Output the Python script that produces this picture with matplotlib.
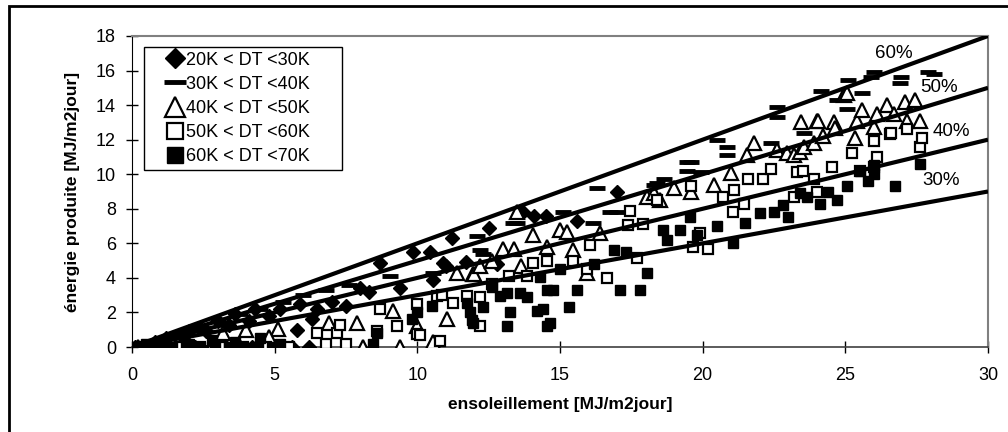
import matplotlib
matplotlib.use('Agg')
import matplotlib.pyplot as plt
import matplotlib.patches as mpatches
import numpy as np

plt.rcParams['font.family'] = ['Liberation Sans', 'DejaVu Sans']

# 20K < DT < 30K (diamonds)
d1_x = [0.1, 0.5, 1.0, 1.5, 2.2, 2.8, 3.3, 3.8, 4.2, 4.6, 5.0, 5.6, 6.2,
        1.8, 2.6, 3.4, 4.1, 4.8, 5.2, 5.9, 6.5, 7.0, 7.5, 8.0, 8.3, 8.7, 9.4,
        9.85, 10.45, 10.55, 10.9, 11.0, 11.2, 11.7, 12.5, 12.8, 13.7, 14.1,
        14.5, 15.6, 17.0, 5.8, 6.3,
        0.8, 1.2, 2.0, 2.4, 3.0, 3.6, 4.3]
d1_y = [0, 0, 0, 0, 0, 0, 0, 0, 0, 0, 0, 0, 0,
        0.6, 0.9, 1.3, 1.5, 1.8, 2.2, 2.5, 2.2, 2.6, 2.4, 3.4, 3.2, 4.85, 3.4,
        5.5, 5.5, 3.9, 4.85, 4.7, 6.3, 4.9, 6.9, 4.8, 7.8, 7.6,
        7.6, 7.3, 9.0, 1.0, 1.6,
        0.3, 0.5, 0.9, 1.1, 1.5, 1.9, 2.2]

# 30K < DT < 40K (dashes)
d2_x = [0.3, 0.8, 1.4, 2.0, 2.7, 3.3, 4.0, 4.6,
        2.2, 3.0, 3.8, 4.5, 5.3, 6.0, 6.8, 7.6,
        9.05, 10.55, 12.1, 12.2, 12.3, 13.35, 13.5, 15.1, 16.15, 16.3,
        16.75, 17.0, 18.3, 18.4, 18.65, 19.45, 19.45, 19.6, 19.95, 20.5,
        20.85, 20.85, 22.4, 22.6, 22.6, 23.55, 24.15, 24.7, 25.05, 25.1,
        25.6, 25.9, 26.0, 26.9, 26.95, 27.9, 28.1]
d2_y = [0, 0, 0, 0, 0, 0, 0, 0,
        1.1, 1.5, 1.9, 2.2, 2.6, 3.0, 3.3, 3.6,
        4.1, 4.3, 6.4, 5.6, 5.4, 7.2, 7.2, 7.8, 7.2, 9.2,
        7.8, 7.8, 9.4, 9.5, 9.7, 10.7, 10.2, 10.7, 10.1, 12.0,
        11.6, 11.1, 11.8, 13.9, 13.3, 12.4, 14.8, 14.3, 13.8, 15.45,
        14.7, 15.6, 15.9, 15.3, 15.6, 15.9, 15.8]

# 40K < DT < 50K (open triangles)
d3_x = [0.2, 0.7, 1.3, 2.0, 2.8, 3.6, 4.4, 5.0,
        5.1, 6.9, 7.9, 8.1, 9.15, 9.4, 10.55, 11.05, 10.0, 11.4, 11.95, 12.0,
        12.2, 13.0, 12.6, 13.4, 13.5, 13.65, 14.05, 14.55, 15.0, 15.25,
        15.45, 15.95, 16.4, 18.05, 18.3, 18.5, 19.0, 19.6, 20.4, 21.0,
        21.55, 21.8, 22.6, 22.95, 23.2, 23.4, 23.45, 23.55, 23.9, 24.0,
        24.05, 24.2, 24.6, 24.65, 24.95, 25.05, 25.35, 25.4, 25.6, 26.0,
        26.1, 26.45, 26.7, 27.1, 27.15, 27.45, 27.6,
        3.2, 4.0, 4.8]
d3_y = [0, 0, 0, 0, 0, 0, 0, 0,
        1.05, 1.4, 1.4, 0, 2.1, 0, 0.3, 1.6, 1.2, 4.3, 4.2, 4.2,
        4.7, 5.7, 5.0, 5.7, 7.8, 4.7, 6.5, 5.8, 6.8, 6.65,
        5.6, 4.3, 6.6, 8.7, 8.9, 8.5, 9.2, 9.0, 9.4, 10.05,
        11.1, 11.8, 11.4, 11.2, 11.1, 11.3, 13.0, 11.6, 11.8, 13.1,
        13.1, 12.2, 13.0, 12.7, 14.6, 14.7, 12.1, 13.1, 13.7, 12.75,
        13.5, 14.0, 13.5, 14.2, 13.1, 14.3, 13.1,
        0.8, 1.0, 0.6]

# 50K < DT < 60K (open squares)
d4_x = [0.4, 1.0, 1.7, 2.4, 3.1, 3.9, 4.7, 5.5,
        6.5, 6.8, 7.2, 7.3, 7.5, 8.6, 8.7, 9.3, 10.0, 10.0, 10.1, 10.7,
        10.8, 10.85, 11.25, 11.75, 12.2, 12.2, 12.6, 13.2, 13.85, 14.05,
        14.55, 15.45, 15.95, 16.05, 16.65, 17.4, 17.45, 17.7, 17.9, 18.4,
        19.6, 19.65, 19.9, 20.2, 20.7, 21.05, 21.1, 21.45, 21.6, 22.1,
        22.4, 23.2, 23.3, 23.5, 23.9, 24.0, 24.55, 25.25, 25.5, 26.0,
        26.0, 26.1, 26.55, 26.6, 27.15, 27.6, 27.7]
d4_y = [0, 0, 0, 0, 0, 0, 0, 0,
        0.8, 0.2, 0.8, 1.3, 0.2, 0.9, 2.2, 1.2, 2.5, 0.75, 0.7, 2.95,
        0.35, 3.0, 2.55, 2.95, 1.2, 2.9, 3.65, 4.1, 4.1, 4.85,
        5.0, 5.0, 4.5, 5.9, 4.0, 7.05, 7.9, 5.15, 7.1, 8.5,
        9.3, 5.8, 6.6, 5.7, 8.7, 7.8, 9.1, 8.3, 9.7, 9.7,
        10.3, 8.7, 10.1, 10.2, 9.7, 9.0, 10.4, 11.2, 10.2, 11.9,
        10.4, 11.0, 12.3, 12.4, 12.6, 11.6, 12.1]

# 60K < DT < 70K (filled squares)
d5_x = [0.0, 0.3, 0.6, 1.0, 1.4, 1.9, 2.4, 2.9, 3.4, 3.9, 4.4, 4.9,
        8.45, 8.6, 10.0, 11.75, 11.85, 11.9, 11.95, 12.3, 12.9, 13.15,
        13.15, 13.25, 13.6, 13.85, 14.2, 14.3, 14.4, 14.55, 14.55, 14.65,
        14.75, 15.3, 15.6, 16.9, 17.1, 17.8, 18.05, 18.6, 18.75, 19.2,
        19.55, 21.05, 22.0, 22.5, 23.4, 23.65, 24.1, 24.7, 25.05, 25.5,
        26.0, 26.0, 26.75, 27.6,
        15.0, 16.2, 17.3, 19.8, 20.5, 21.5, 22.8, 23.0, 24.4, 25.8,
        12.6, 10.5, 9.8,
        0.5, 1.2, 2.0, 2.8, 3.6, 4.5, 5.2]
d5_y = [0, 0, 0, 0, 0, 0, 0, 0, 0, 0, 0, 0,
        0.2, 0.8, 2.0, 2.55, 2.0, 1.55, 1.4, 2.3, 2.95, 1.2,
        3.1, 2.0, 3.1, 2.9, 2.1, 4.05, 2.2, 1.2, 3.3, 1.4,
        3.3, 2.3, 3.3, 5.6, 3.3, 3.3, 4.3, 6.8, 6.2, 6.8,
        7.5, 6.0, 7.75, 7.8, 8.9, 8.7, 8.3, 8.5, 9.3, 10.2,
        10.0, 10.55, 9.3, 10.6,
        4.5, 4.8, 5.5, 6.5, 7.0, 7.2, 8.2, 7.5, 9.0, 9.6,
        3.5, 2.4, 1.6,
        0.2, 0.3, 0.2, 0.4, 0.3, 0.5, 0.2]

legend_labels = ['20K < DT <30K', '30K < DT <40K', '40K < DT <50K',
                 '50K < DT <60K', '60K < DT <70K']

# efficiency reference lines
efficiencies = [0.6, 0.5, 0.4, 0.3]
eff_labels = ['60%', '50%', '40%', '30%']
eff_label_pos = [(26.7, 17.0), (28.3, 15.0), (28.7, 12.45), (28.35, 9.65)]

W, H = 1008, 432
fig = plt.figure(figsize=(W / 100, H / 100), dpi=100)
ax = fig.add_axes([132 / W, 1 - 347 / H, 856 / W, 311 / H])

# outer chart border (right and bottom edges fall outside the image)
fig.patches.append(mpatches.Rectangle((9 / W, -0.1), 1.2, 1 - 6 / H + 0.1,
                                      transform=fig.transFigure, fill=False,
                                      edgecolor='black', linewidth=2))

h1, = ax.plot(d1_x, d1_y, 'D', color='black', markersize=7, linestyle='none', zorder=3)
h2, = ax.plot(d2_x, d2_y, '_', color='black', markersize=11, markeredgewidth=3.5,
              linestyle='none', zorder=3)
h3, = ax.plot(d3_x, d3_y, '^', markerfacecolor='white', markeredgecolor='black',
              markersize=10, markeredgewidth=1.6, linestyle='none', zorder=3)
h4, = ax.plot(d4_x, d4_y, 's', markerfacecolor='white', markeredgecolor='black',
              markersize=7.5, markeredgewidth=1.6, linestyle='none', zorder=3)
h5, = ax.plot(d5_x, d5_y, 's', color='black', markersize=7.5, linestyle='none', zorder=3)

xl = np.array([0, 30])
for eff in efficiencies:
    ax.plot(xl, eff * xl, color='black', linewidth=3, zorder=4, solid_capstyle='butt')
for lab, (tx, ty) in zip(eff_labels, eff_label_pos):
    ax.text(tx, ty, lab, fontsize=13.5, ha='center', va='center', zorder=5)

ax.set_xlim(0, 30)
ax.set_ylim(0, 18)
ax.set_xticks([0, 5, 10, 15, 20, 25, 30])
ax.set_yticks(range(0, 19, 2))
ax.tick_params(direction='inout', length=9, width=1, labelsize=13)
ax.tick_params(axis='x', pad=10)
ax.tick_params(axis='y', pad=7)
for side in ['top', 'right']:
    ax.spines[side].set_color('#808080')
    ax.spines[side].set_linewidth(1.5)
ax.spines['left'].set_color('black')
ax.spines['bottom'].set_color('#404040')
ax.spines['bottom'].set_linewidth(1.2)

ax.set_xlabel('ensoleillement [MJ/m2jour]', fontsize=12.5, fontweight='bold')
ax.set_ylabel('énergie produite [MJ/m2jour]', fontsize=12.5, fontweight='bold')
ax.xaxis.set_label_coords(0.5, (347 - 404) / 311)
ax.xaxis.label.set_va('center')
ax.yaxis.set_label_coords((72 - 132) / 856, 0.5)
ax.yaxis.label.set_va('center')

leg = ax.legend([h1, h2, h3, h4, h5], legend_labels, loc='upper left',
                bbox_to_anchor=(12 / 856, 1 - 11 / 311 - 142 / 311, 198 / 856, 142 / 311),
                mode='expand', borderaxespad=0, fontsize=13, frameon=True,
                fancybox=False, edgecolor='black', framealpha=1,
                handlelength=2.9, handletextpad=-0.8, labelspacing=0.4,
                borderpad=0.25, markerscale=1.45)
leg.get_frame().set_linewidth(1.0)

fig.savefig('out.png', dpi=100, facecolor='white')
